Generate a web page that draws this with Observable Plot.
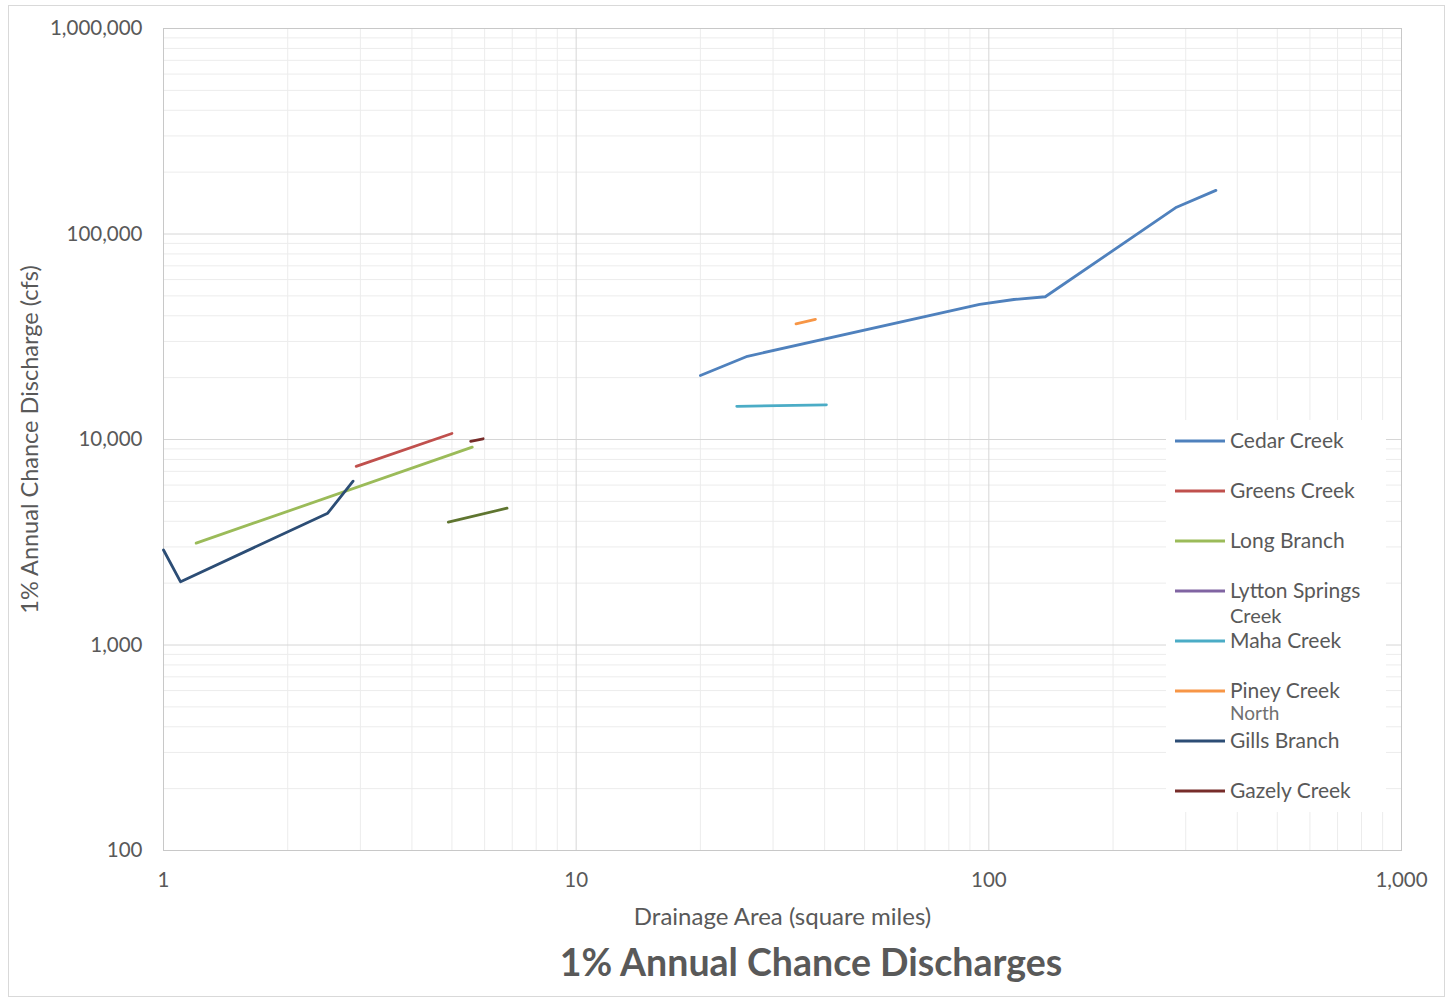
<!DOCTYPE html>
<html>
<head>
<meta charset="utf-8">
<script src="https://cdn.jsdelivr.net/npm/d3@7"></script>
<script src="https://cdn.jsdelivr.net/npm/@observablehq/plot@0.6"></script>
<style>
  html, body { margin: 0; padding: 0; background: #fff; }
  #wrap { position: relative; width: 1452px; height: 1002px; overflow: hidden; font-family: Lato, "Open Sans", sans-serif; }
  #border { position: absolute; left: 8px; top: 5px; width: 1437px; height: 992px; border: 1px solid #d9d9d9; box-sizing: border-box; }
  #chart { position: absolute; left: 0; top: 0; }
  #title { position: absolute; left: 461px; width: 700px; top: 939px; text-align: center; font-weight: bold; font-size: 37.5px; color: #595959; }
</style>
</head>
<body>
<div id="wrap">
  <div id="border"></div>
  <div id="chart"></div>
  <div id="title">1% Annual Chance Discharges</div>
</div>
<script>
// ---- data ----
const seriesNames = ["Cedar Creek", "Greens Creek", "Long Branch", "Lytton Springs Creek", "Maha Creek", "Piney Creek North", "Gills Branch", "Gazely Creek", "Unlabeled"];
const seriesColors = ["#4F81BD", "#C0504D", "#9BBB59", "#8064A2", "#4BACC6", "#F79646", "#2C4D75", "#772C2A", "#5F7530"];

const cedarArea = [20, 26, 95, 115, 137, 285, 355];
const cedarQ    = [20500, 25400, 45500, 48000, 49500, 135000, 163000];
const greensArea = [2.93, 5.0];
const greensQ    = [7400, 10700];
const longArea = [1.2, 5.6];
const longQ    = [3130, 9180];
const lyttonArea = [];
const lyttonQ    = [];
const mahaArea = [24.5, 40.4];
const mahaQ    = [14500, 14750];
const pineyArea = [34.1, 38.0];
const pineyQ    = [36500, 38400];
const gillsArea = [1.0, 1.1, 2.5, 2.88];
const gillsQ    = [2900, 2030, 4380, 6270];
const gazelyArea = [5.55, 5.95];
const gazelyQ    = [9800, 10080];
const otherArea = [4.9, 6.8];
const otherQ    = [3960, 4630];

const xTicks = [1, 10, 100, 1000];
const yTicks = [100, 1000, 10000, 100000, 1000000];

// ---- build table ----
const seriesData = [
  [cedarArea, cedarQ], [greensArea, greensQ], [longArea, longQ], [lyttonArea, lyttonQ],
  [mahaArea, mahaQ], [pineyArea, pineyQ], [gillsArea, gillsQ], [gazelyArea, gazelyQ], [otherArea, otherQ]
];
const rows = [];
seriesData.forEach(([xs, ys], i) => xs.forEach((x, j) => rows.push({name: seriesNames[i], area: x, q: ys[j]})));

// minor gridlines from the tick decades
const minorX = [];
xTicks.slice(0, -1).forEach(d => { for (let k = 2; k <= 9; k++) minorX.push(d * k); });
const minorY = [];
yTicks.slice(0, -1).forEach(d => { for (let k = 2; k <= 9; k++) minorY.push(d * k); });

const fmt = d3.format(",");

const chart = Plot.plot({
  width: 1452,
  height: 935,
  marginLeft: 163,
  marginRight: 51,
  marginTop: 28,
  marginBottom: 85,
  style: {fontFamily: "Lato, 'Open Sans', sans-serif", fontSize: "20.5px", color: "#595959", background: "transparent", overflow: "visible"},
  x: {type: "log", domain: [1, 1000]},
  y: {type: "log", domain: [100, 1000000]},
  color: {domain: seriesNames, range: seriesColors},
  marks: [
    Plot.ruleX(minorX, {stroke: "#ececec", strokeWidth: 1}),
    Plot.ruleY(minorY, {stroke: "#ececec", strokeWidth: 1}),
    Plot.ruleX(xTicks, {stroke: "#d6d6d6", strokeWidth: 1}),
    Plot.ruleY(yTicks, {stroke: "#d6d6d6", strokeWidth: 1}),
    Plot.frame({stroke: "#c8c8c8"}),
    Plot.axisX({ticks: xTicks, tickSize: 0, tickPadding: 22, tickFormat: fmt, label: null, fill: "#595959"}),
    Plot.axisY({ticks: yTicks, tickSize: 0, tickPadding: 21, tickFormat: fmt, label: null, fill: "#595959"}),
    Plot.line(rows, {x: "area", y: "q", z: "name", stroke: "name", strokeWidth: 2.8, strokeLinejoin: "round"}),
    Plot.text(["Drainage Area (square miles)"], {frameAnchor: "bottom", dy: 74, fontSize: 24, fill: "#595959", textAnchor: "middle"}),
    Plot.text(["1% Annual Chance Discharge (cfs)"], {frameAnchor: "left", dx: -133, rotate: -90, fontSize: 23.5, fill: "#595959", textAnchor: "middle"})
  ]
});
document.getElementById("chart").appendChild(chart);

// ---- legend inside the plot area ----
const svg = d3.select(chart);
const lg = svg.append("g").attr("font-family", "Lato, 'Open Sans', sans-serif").attr("fill", "#595959").attr("text-anchor", "start");
lg.append("rect").attr("x", 1166).attr("y", 420).attr("width", 220).attr("height", 392).attr("fill", "#fff");
const legendLines = [["Cedar Creek"], ["Greens Creek"], ["Long Branch"], ["Lytton Springs", "Creek"], ["Maha Creek"], ["Piney Creek", "North"], ["Gills Branch"], ["Gazely Creek"]];
legendLines.forEach((lines, i) => {
  const y = 441 + 50 * i;
  lg.append("line").attr("x1", 1175).attr("x2", 1225).attr("y1", y).attr("y2", y)
    .attr("stroke", seriesColors[i]).attr("stroke-width", 2.8);
  lg.append("text").attr("x", 1230).attr("y", y + 7).attr("font-size", 21).attr("text-anchor", "start").text(lines[0]);
  if (lines[1]) {
    const small = lines[1] === "North";
    lg.append("text").attr("x", 1230).attr("y", y + (small ? 29 : 32)).attr("text-anchor", "start")
      .attr("font-size", small ? 19 : 20).attr("fill", small ? "#707070" : "#595959").text(lines[1]);
  }
});
</script>
</body>
</html>
